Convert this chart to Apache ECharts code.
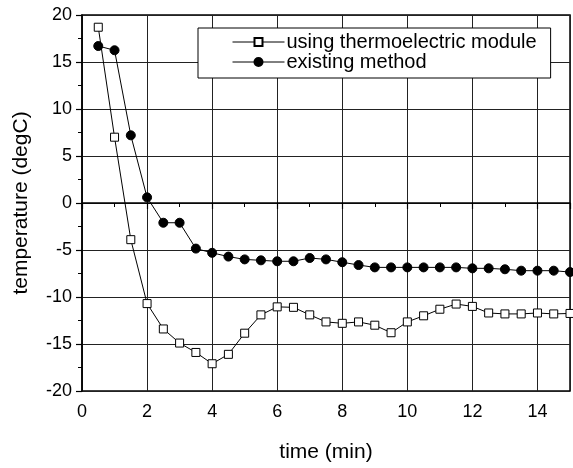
<!DOCTYPE html>
<html><head><meta charset="utf-8">
<script src="https://cdn.jsdelivr.net/npm/echarts@6/dist/echarts.min.js"></script>
<style>html,body{margin:0;padding:0;background:#fff}#c{width:573px;height:468px}</style>
</head><body><div id="c"></div>
<script>
var times = [0.5,1,1.5,2,2.5,3,3.5,4,4.5,5,5.5,6,6.5,7,7.5,8,8.5,9,9.5,10,10.5,11,11.5,12,12.5,13,13.5,14,14.5,15];
var thermoelectric = [18.7,7.0,-3.9,-10.7,-13.4,-14.9,-15.9,-17.1,-16.1,-13.85,-11.9,-11.05,-11.1,-11.9,-12.65,-12.8,-12.65,-13.0,-13.8,-12.65,-12.0,-11.3,-10.75,-11.0,-11.7,-11.8,-11.8,-11.7,-11.8,-11.75];
var existing = [16.7,16.25,7.2,0.6,-2.1,-2.1,-4.85,-5.3,-5.7,-6.0,-6.1,-6.2,-6.2,-5.85,-6.0,-6.3,-6.6,-6.85,-6.85,-6.85,-6.85,-6.85,-6.85,-6.95,-6.95,-7.05,-7.2,-7.2,-7.2,-7.35];
var seriesNames = ['using thermoelectric module','existing method'];
var xTitle = 'time (min)';
var yTitle = 'temperature (degC)';

function pairs(xs, ys){ return xs.map(function(x,i){ return [x, ys[i]]; }); }
var FONT = '"Liberation Sans", Arial, sans-serif';
var chart = echarts.init(document.getElementById('c'), null, {renderer:'canvas'});
chart.setOption({
  animation:false,
  backgroundColor:'#fff',
  textStyle:{fontFamily:FONT, color:'#000'},
  grid:{left:82, right:3, top:15, bottom:72, show:true, borderColor:'#000', borderWidth:1.5, backgroundColor:'transparent'},
  legend:{
    orient:'vertical', left:198, top:28,
    backgroundColor:'#fff', borderColor:'#000', borderWidth:1,
    padding:[4,14,6,34], itemGap:0, itemWidth:52, itemHeight:10,
    lineStyle:{width:1, color:'#000'},
    textStyle:{fontSize:20, fontFamily:FONT, color:'#000', lineHeight:20, padding:[0,0,0,-3]},
    data:seriesNames
  },
  xAxis:{
    type:'value', min:0, max:15, interval:2,
    name:xTitle, nameLocation:'middle', nameGap:51,
    nameTextStyle:{fontSize:21, fontFamily:FONT, color:'#000'},
    axisLine:{show:true, lineStyle:{color:'#000', width:1.5}},
    axisTick:{show:true, inside:false, length:6, lineStyle:{color:'#000', width:1.2}},
    minorTick:{show:true, splitNumber:2, length:4, lineStyle:{color:'#000', width:1}},
    axisLabel:{fontSize:18, fontFamily:FONT, color:'#000', margin:12, showMaxLabel:false},
    splitLine:{show:true, lineStyle:{color:'#222', width:1}}
  },
  yAxis:{
    type:'value', min:-20, max:20, interval:5,
    name:yTitle, nameLocation:'middle', nameGap:50,
    nameTextStyle:{fontSize:21, fontFamily:FONT, color:'#000'},
    axisLine:{show:true, lineStyle:{color:'#000', width:1.5}},
    axisTick:{show:true, inside:false, length:6, lineStyle:{color:'#000', width:1.2}},
    minorTick:{show:true, splitNumber:2, length:4, lineStyle:{color:'#000', width:1}},
    axisLabel:{fontSize:18, fontFamily:FONT, color:'#000', margin:10},
    splitLine:{show:true, lineStyle:{color:'#222', width:1}}
  },
  series:[
    {name:seriesNames[0], type:'line', data:pairs(times, thermoelectric), clip:false,
     symbol:'rect', symbolSize:8, lineStyle:{color:'#000', width:1},
     itemStyle:{color:'#fff', borderColor:'#000', borderWidth:1}, z:3},
    {name:seriesNames[1], type:'line', data:pairs(times, existing), clip:false,
     symbol:'circle', symbolSize:9, lineStyle:{color:'#000', width:1},
     itemStyle:{color:'#000', borderColor:'#000', borderWidth:1}, z:4}
  ]
});
</script></body></html>
